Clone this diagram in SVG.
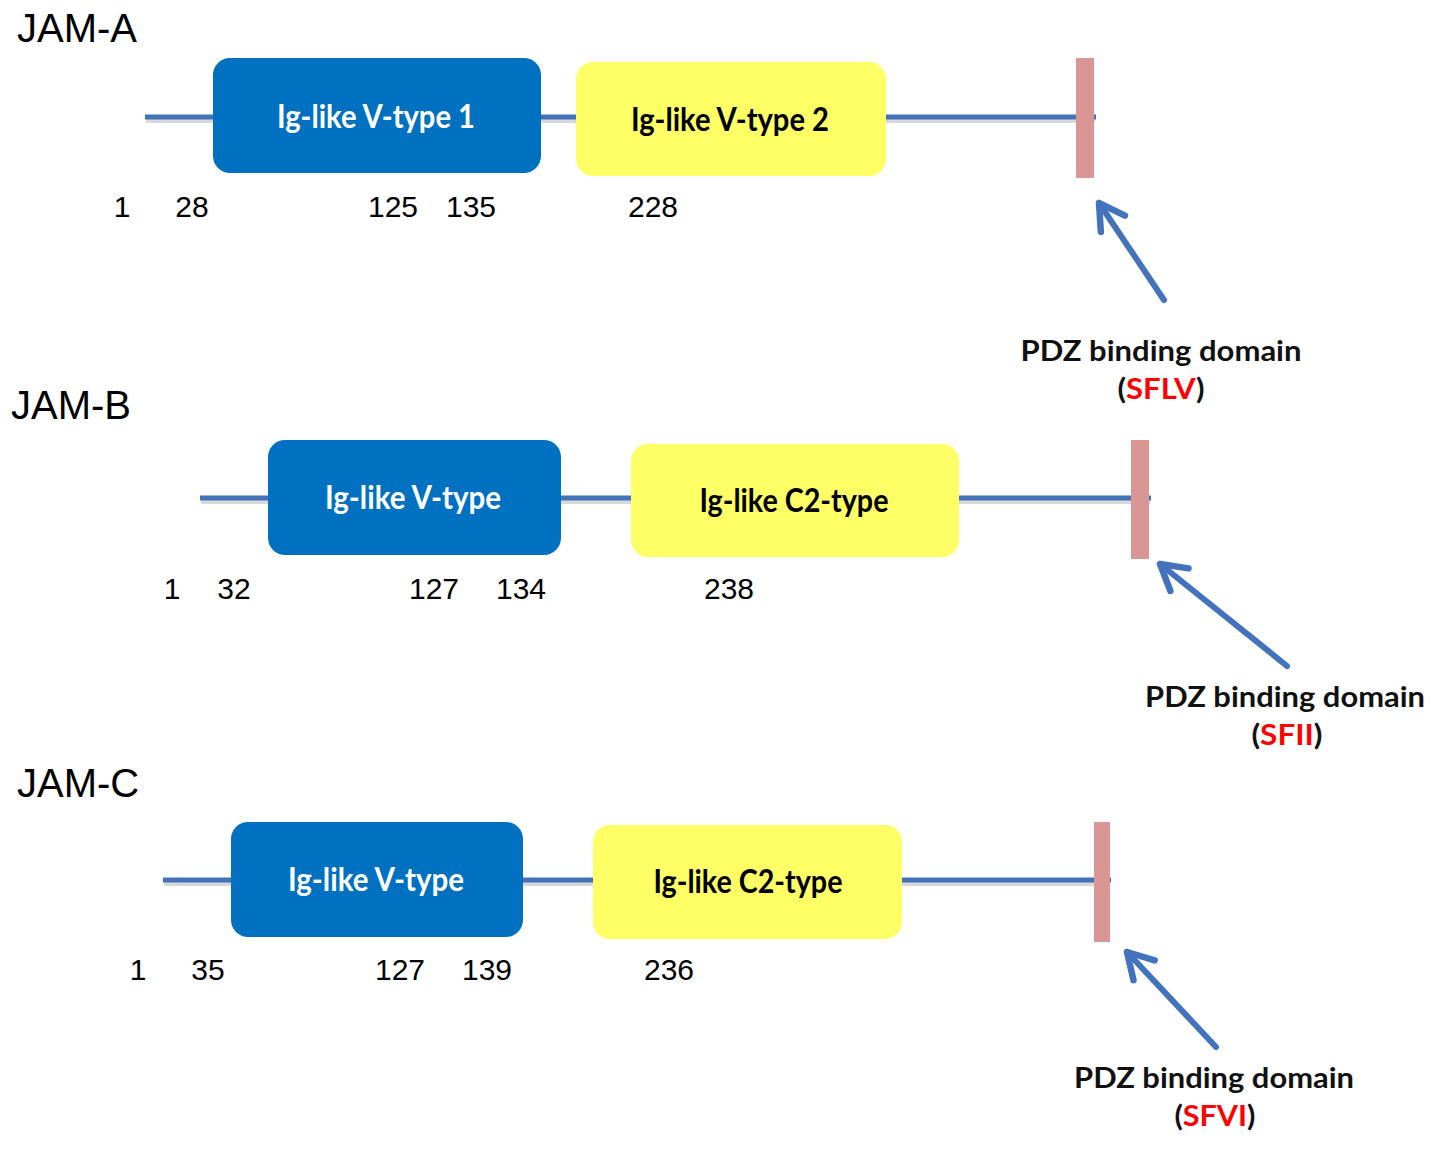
<svg xmlns="http://www.w3.org/2000/svg" width="1441" height="1155" viewBox="0 0 1441 1155">
<defs>
<style>
.bg{fill:#ffffff}
.title{font-family:"Liberation Sans",Arial,sans-serif;font-size:40px;fill:#000}
.num{font-family:"Liberation Sans",Arial,sans-serif;font-size:30px;fill:#000;text-anchor:middle}
.bl{fill:#0070c0}
.yl{fill:#ffff66}
.pk{fill:#d99694}
.bt{font-family:Lato,"Open Sans",sans-serif;font-weight:bold;font-size:32px;fill:#ffffff;text-anchor:middle}
.yt{font-family:Lato,"Open Sans",sans-serif;font-weight:bold;font-size:32px;fill:#000;text-anchor:middle}
.pdz{font-family:Lato,"Open Sans",sans-serif;font-weight:bold;font-size:28px;fill:#111;text-anchor:middle}
.red{fill:#ff0000}
.ln{stroke:#4273b8;stroke-width:5;fill:none}
.sh{stroke:#b8b8b8;stroke-width:4;fill:none;opacity:0.55}
.ar{stroke:#4473be;stroke-width:6;fill:none;stroke-linecap:round}
</style>
<marker id="head" markerUnits="userSpaceOnUse" viewBox="-32 -20 38 40" refX="0" refY="0" markerWidth="38" markerHeight="40" orient="auto" overflow="visible">
<path d="M-25,-14.5 L0,0 L-25,14.5" fill="none" stroke="#4473be" stroke-width="6.5" stroke-linecap="round" stroke-linejoin="round"/>
</marker>
</defs>
<rect class="bg" x="0" y="0" width="1441" height="1155"/>

<g id="connectors">
<line class="sh" x1="146" y1="121" x2="1095" y2="121"/>
<line class="ln" x1="145" y1="117" x2="1096" y2="117"/>
<line class="sh" x1="201" y1="502" x2="1150" y2="502"/>
<line class="ln" x1="200" y1="498" x2="1151" y2="498"/>
<line class="sh" x1="164" y1="884" x2="1110" y2="884"/>
<line class="ln" x1="163" y1="880" x2="1111" y2="880"/>
<line class="ar" x1="1164" y1="300" x2="1099" y2="203" marker-end="url(#head)"/>
<line class="ar" x1="1287" y1="666" x2="1160" y2="564" marker-end="url(#head)"/>
<line class="ar" x1="1216" y1="1047" x2="1127" y2="952" marker-end="url(#head)"/>
</g>

<g id="jam-a">
<text class="title" x="17" y="42">JAM-A</text>
<g id="jam-a-v1">
<rect class="bl" x="213" y="58" width="328" height="115" rx="17"/>
<text class="bt" x="376" y="128" textLength="198" lengthAdjust="spacingAndGlyphs">Ig-like V-type 1</text>
</g>
<g id="jam-a-v2">
<rect class="yl" x="576" y="62" width="310" height="114" rx="17"/>
<text class="yt" x="730" y="131" textLength="198" lengthAdjust="spacingAndGlyphs">Ig-like V-type 2</text>
</g>
<g id="jam-a-pdz">
<rect class="pk" x="1076" y="58" width="18" height="120"/>
<text class="pdz" x="1161" y="361" textLength="281" lengthAdjust="spacingAndGlyphs">PDZ binding domain</text>
<text class="pdz" x="1161" y="399" textLength="87" lengthAdjust="spacingAndGlyphs">(<tspan class="red">SFLV</tspan>)</text>
</g>
<text class="num" x="122" y="217">1</text>
<text class="num" x="192" y="217">28</text>
<text class="num" x="393" y="217">125</text>
<text class="num" x="471" y="217">135</text>
<text class="num" x="653" y="217">228</text>
</g>

<g id="jam-b">
<text class="title" x="11" y="419">JAM-B</text>
<g id="jam-b-v">
<rect class="bl" x="268" y="440" width="293" height="115" rx="17"/>
<text class="bt" x="413" y="509" textLength="176" lengthAdjust="spacingAndGlyphs">Ig-like V-type</text>
</g>
<g id="jam-b-c2">
<rect class="yl" x="631" y="444" width="328" height="113" rx="17"/>
<text class="yt" x="794" y="512" textLength="189" lengthAdjust="spacingAndGlyphs">Ig-like C2-type</text>
</g>
<g id="jam-b-pdz">
<rect class="pk" x="1131" y="440" width="18" height="119"/>
<text class="pdz" x="1285" y="707" textLength="280" lengthAdjust="spacingAndGlyphs">PDZ binding domain</text>
<text class="pdz" x="1287" y="745" textLength="71" lengthAdjust="spacingAndGlyphs">(<tspan class="red">SFII</tspan>)</text>
</g>
<text class="num" x="172" y="599">1</text>
<text class="num" x="234" y="599">32</text>
<text class="num" x="434" y="599">127</text>
<text class="num" x="521" y="599">134</text>
<text class="num" x="729" y="599">238</text>
</g>

<g id="jam-c">
<text class="title" x="17" y="797">JAM-C</text>
<g id="jam-c-v">
<rect class="bl" x="231" y="822" width="292" height="115" rx="17"/>
<text class="bt" x="376" y="891" textLength="176" lengthAdjust="spacingAndGlyphs">Ig-like V-type</text>
</g>
<g id="jam-c-c2">
<rect class="yl" x="593" y="825" width="309" height="114" rx="17"/>
<text class="yt" x="748" y="893" textLength="189" lengthAdjust="spacingAndGlyphs">Ig-like C2-type</text>
</g>
<g id="jam-c-pdz">
<rect class="pk" x="1094" y="822" width="16" height="120"/>
<text class="pdz" x="1214" y="1088" textLength="280" lengthAdjust="spacingAndGlyphs">PDZ binding domain</text>
<text class="pdz" x="1215" y="1126" textLength="81" lengthAdjust="spacingAndGlyphs">(<tspan class="red">SFVI</tspan>)</text>
</g>
<text class="num" x="138" y="980">1</text>
<text class="num" x="208" y="980">35</text>
<text class="num" x="400" y="980">127</text>
<text class="num" x="487" y="980">139</text>
<text class="num" x="669" y="980">236</text>
</g>
</svg>
